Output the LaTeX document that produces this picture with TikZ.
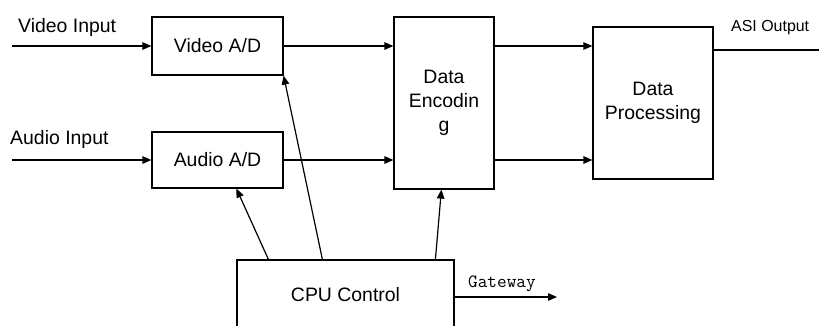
\documentclass[tikz,border=0pt]{standalone}
\usepackage{fontspec}
\setmainfont{Liberation Sans}
\usetikzlibrary{arrows.meta,calc}
\tikzset{
  box/.style={draw, line width=1.2bp, inner sep=0pt, align=center, font=\fontsize{19.5}{24}\selectfont},
  arr/.style={line width=1.2bp, -{Triangle[length=9bp,width=7.5bp]}},
  lbl/.style={inner sep=0pt, anchor=base west, font=\fontsize{19.5}{24}\selectfont},
  small/.style={inner sep=0pt, anchor=base west, font=\fontsize{16}{19}\selectfont},
  mono/.style={inner sep=0pt, anchor=base west, font=\ttfamily\fontsize{18.8}{22}\selectfont}
}
\begin{document}
\begin{tikzpicture}[x=1bp,y=-1bp]
\useasboundingbox (0,0) rectangle (819,325);
\fill[white] (0,0) rectangle (819,325);
\node[box, minimum width=131bp, minimum height=58bp] (vad) at (217.5,46) {Video A/D};
\node[box, minimum width=131bp, minimum height=56bp] (aad) at (217.5,160) {Audio A/D};
\node[box, minimum width=100bp, minimum height=172bp] (enc) at (444,103) {Data\\Encodin\\g};
\node[box, minimum width=120bp, minimum height=152bp] (dp) at (653,103) {Data\\Processing};
\node[box, minimum width=217bp, minimum height=70bp] (cpu) at (345.5,295) {CPU Control};
\node[lbl] (vinl) at (18,32.3) {Video Input};
\node[lbl] (ainl) at (10,144) {Audio Input};
\node[small] (asil) at (731,31.7) {ASI Output};
\node[mono] (gwl) at (468,287) {Gateway};
\coordinate (vin) at (12,46);
\coordinate (ain) at (12,160);
\coordinate (asiend) at (828,50);
\coordinate (gwend) at (557,297);
\draw[arr] (vin) -- (vad.west);
\draw[arr] (ain) -- (aad.west);
\draw[arr] (vad.east) -- (vad.east -| enc.west);
\draw[arr] (aad.east) -- (aad.east -| enc.west);
\draw[arr] (enc.east |- vad.east) -- (dp.west |- vad.east);
\draw[arr] (enc.east |- aad.east) -- (dp.west |- aad.east);
\draw[arr] (dp.east |- asiend) -- (asiend);
\draw[arr] (cpu.east |- gwend) -- (gwend);
\draw[arr] ($(cpu.north west)+(32,0)$) -- ($(aad.south west)+(85,0)$);
\draw[arr] ($(cpu.north west)+(86,0)$) -- (vad.south east);
\draw[arr] ($(cpu.north west)+(199,0)$) -- ($(enc.south west)+(48,0)$);
\end{tikzpicture}
\end{document}
